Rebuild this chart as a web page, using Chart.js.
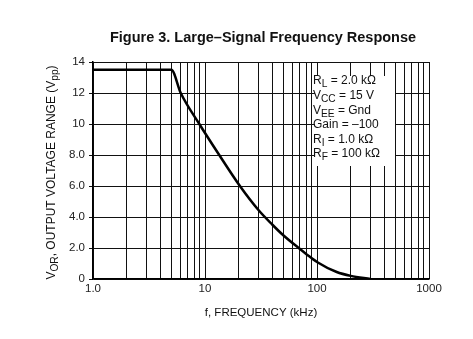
<!DOCTYPE html>
<html>
<head>
<meta charset="utf-8">
<script src="https://cdn.jsdelivr.net/npm/chart.js@4"></script>
<style>
  html, body { margin: 0; padding: 0; background: #fff; }
  #wrap { width: 473px; height: 339px; position: relative; }
</style>
</head>
<body>
<div id="wrap"><canvas id="grafico" width="473" height="339"></canvas></div>
<script>
// ===== DATOS =====
const frecuencias = [1, 5, 6.07, 8.9, 13.4, 20.5, 30, 40, 50, 70, 80, 100, 150, 200, 300]; // kHz
const tensiones   = [13.5, 13.5, 12, 10, 8, 6, 4.45, 3.5, 2.82, 1.95, 1.62, 1.1, 0.45, 0.2, 0];
const ticksX = [1, 10, 100, 1000];
const etiquetasX = ['1.0', '10', '100', '1000'];
const ticksY = [0, 2, 4, 6, 8, 10, 12, 14];
const etiquetasY = ['0', '2.0', '4.0', '6.0', '8.0', '10', '12', '14'];

const titulo = 'Figure 3. Large\u2013Signal Frequency Response';
const tituloX = 'f, FREQUENCY (kHz)';
const tituloY = [['V', false], ['OR', true], [', OUTPUT VOLTAGE RANGE (V', false], ['pp', true], [')', false]];
const condiciones = [
    [['R', false], ['L', true], [' = 2.0 k\u03A9', false]],
    [['V', false], ['CC', true], [' = 15 V', false]],
    [['V', false], ['EE', true], [' = Gnd', false]],
    [['Gain = \u2013100', false]],
    [['R', false], ['I', true], [' = 1.0 k\u03A9', false]],
    [['R', false], ['F', true], [' = 100 k\u03A9', false]]
];

const FUENTE = '"Liberation Sans", Arial, sans-serif';

// texto con subíndices
function anchoTexto(ctx, partes, tam) {
    let w = 0;
    partes.forEach(([t, sub]) => {
        ctx.font = (sub ? tam * 0.85 : tam) + 'px ' + FUENTE;
        w += ctx.measureText(t).width;
    });
    return w;
}
function dibujarTexto(ctx, partes, x, y, tam) {
    partes.forEach(([t, sub]) => {
        ctx.font = (sub ? tam * 0.85 : tam) + 'px ' + FUENTE;
        ctx.fillText(t, x, sub ? y + tam * 0.3 : y);
        x += ctx.measureText(t).width;
    });
}

// ===== PLUGIN DE TEXTOS =====
const textos = {
    id: 'textos',
    afterDraw(chart) {
        const ctx = chart.ctx;
        const area = chart.chartArea;
        ctx.save();
        ctx.fillStyle = '#111';
        ctx.textBaseline = 'middle';

        // título
        ctx.font = 'bold 14.5px ' + FUENTE;
        ctx.textAlign = 'center';
        ctx.fillText(titulo, 263, 38);

        // título eje X
        ctx.font = '11.5px ' + FUENTE;
        ctx.fillText(tituloX, 261, 313);

        // título eje Y (rotado)
        ctx.textAlign = 'left';
        const w = anchoTexto(ctx, tituloY, 12);
        ctx.translate(52, (area.top + area.bottom) / 2 + 2);
        ctx.rotate(-Math.PI / 2);
        dibujarTexto(ctx, tituloY, -w / 2, 0, 12);
        ctx.restore();

        // recuadro de condiciones
        ctx.save();
        ctx.fillStyle = '#fff';
        ctx.fillRect(315, 76, 80, 90);
        ctx.fillStyle = '#111';
        ctx.textBaseline = 'middle';
        ctx.textAlign = 'left';
        condiciones.forEach((linea, i) => {
            dibujarTexto(ctx, linea, 313, 81 + i * 14.6, 12);
        });
        ctx.restore();
    }
};

// ===== GRÁFICO =====
const ctx = document.getElementById('grafico').getContext('2d');
new Chart(ctx, {
    type: 'line',
    data: {
        datasets: [{
            data: frecuencias.map((f, i) => ({ x: f, y: tensiones[i] })),
            borderColor: '#000',
            borderWidth: 2.5,
            pointRadius: 0,
            cubicInterpolationMode: 'monotone',
            fill: false
        }]
    },
    options: {
        responsive: false,
        animation: false,
        devicePixelRatio: 1,
        layout: { padding: { top: 62, right: 44, left: 0, bottom: 0 } },
        plugins: { legend: { display: false }, tooltip: { enabled: false } },
        scales: {
            x: {
                type: 'logarithmic',
                min: 1,
                max: 1000,
                afterFit(s) { s.height = 60; },
                afterBuildTicks(s) {
                    const t = [];
                    for (let d = 1; d < 1000; d *= 10) {
                        for (let k = 1; k < 10; k++) t.push({ value: d * k });
                    }
                    t.push({ value: 1000 });
                    s.ticks = t;
                },
                ticks: {
                    autoSkip: false,
                    maxRotation: 0,
                    color: '#222',
                    padding: 3,
                    font: { family: FUENTE, size: 11.5 },
                    callback: (v) => {
                        const i = ticksX.indexOf(v);
                        return i >= 0 ? etiquetasX[i] : '';
                    }
                },
                grid: { color: '#111', lineWidth: 1, drawTicks: false },
                border: { color: '#000', width: 1.5 }
            },
            y: {
                min: 0,
                max: 14,
                afterFit(s) { s.width = 93; },
                afterBuildTicks(s) { s.ticks = ticksY.map(v => ({ value: v })); },
                ticks: {
                    color: '#222',
                    padding: 4,
                    font: { family: FUENTE, size: 11.5 },
                    callback: (v) => {
                        const i = ticksY.indexOf(v);
                        return i >= 0 ? etiquetasY[i] : '';
                    }
                },
                grid: { color: '#111', lineWidth: 1, drawTicks: true, tickLength: 4 },
                border: { color: '#000', width: 1.5 }
            }
        }
    },
    plugins: [textos]
});
</script>
</body>
</html>
